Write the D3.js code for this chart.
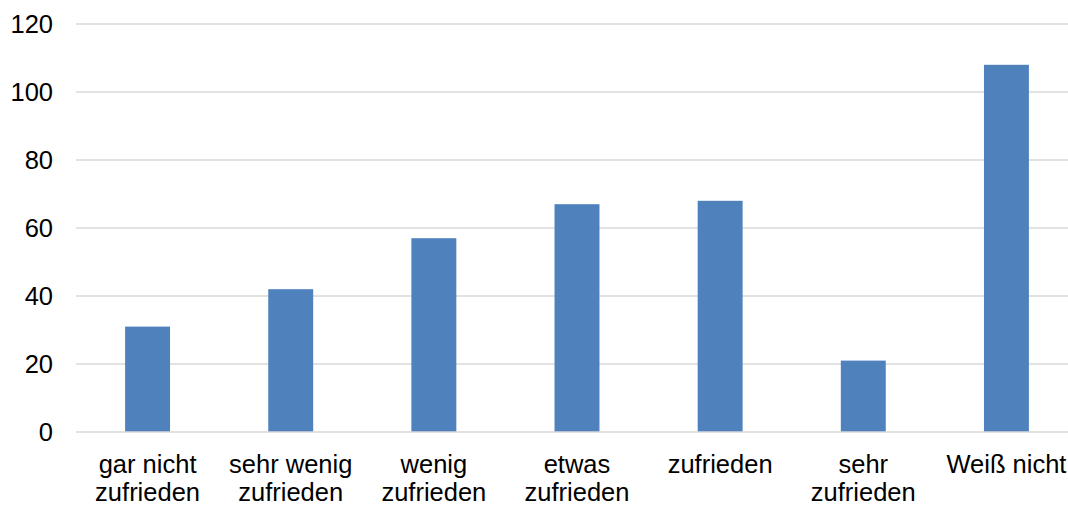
<!DOCTYPE html>
<html><head><meta charset="utf-8">
<script src="https://cdn.jsdelivr.net/npm/d3@7"></script>
<style>body{margin:0;background:#fff;}svg{display:block;}text{font-family:"Liberation Sans",Arial,sans-serif;fill:#000;}</style>
</head><body>
<svg id="c" width="1068" height="507"></svg>
<script>
const categories = [["gar nicht","zufrieden"],["sehr wenig","zufrieden"],["wenig","zufrieden"],["etwas","zufrieden"],["zufrieden"],["sehr","zufrieden"],["Weiß nicht"]];
const values = [31, 42, 57, 67, 68, 21, 108];
const yTicks = [0, 20, 40, 60, 80, 100, 120];

const svg = d3.select("#c");
const x = d3.scaleBand().domain(d3.range(categories.length)).range([76, 1078]).paddingInner(0.686).paddingOuter(0.343);
const y = d3.scaleLinear().domain([0, 120]).range([432, 24]);

// gridlines
svg.append("g").selectAll("line").data(yTicks.filter(d => d > 0)).join("line")
  .attr("x1", 76).attr("x2", 1068).attr("y1", d => y(d)).attr("y2", d => y(d))
  .attr("stroke", "#d9d9d9").attr("stroke-width", 1.3);

// y tick labels
const yAxis = d3.axisLeft(y).tickValues(yTicks).tickSize(0).tickPadding(0);
const ya = svg.append("g").attr("transform", "translate(53,0)").call(yAxis);
ya.select(".domain").remove();
ya.selectAll("text").attr("font-size", 25.5).attr("fill", "#000").attr("font-family", "Liberation Sans, Arial, sans-serif");

// bars
svg.append("g").selectAll("rect").data(values).join("rect")
  .attr("x", (d, i) => x(i)).attr("width", x.bandwidth())
  .attr("y", d => y(d)).attr("height", d => y(0) - y(d))
  .attr("fill", "#4f81bd");

// axis line
svg.append("line").attr("x1", 76).attr("x2", 1068).attr("y1", y(0)).attr("y2", y(0))
  .attr("stroke", "#d9d9d9").attr("stroke-width", 1.3);

// category labels
const cl = svg.append("g").selectAll("text").data(categories).join("text")
  .attr("text-anchor", "middle").attr("font-size", 25.5)
  .attr("x", (d, i) => x(i) + x.bandwidth() / 2).attr("y", 473);
cl.selectAll("tspan").data(d => d).join("tspan")
  .attr("x", function() { return this.parentNode.getAttribute("x"); })
  .attr("dy", (d, i) => i === 0 ? 0 : 28).text(d => d);
</script>
</body></html>
